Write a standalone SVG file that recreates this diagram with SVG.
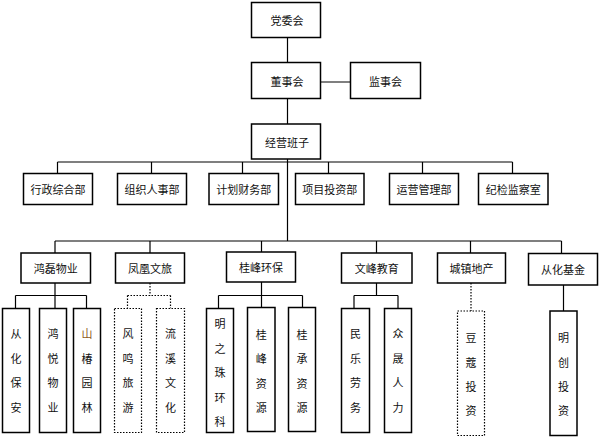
<svg xmlns="http://www.w3.org/2000/svg" width="600" height="444" viewBox="0 0 600 444">
<style>
.b{fill:#fff;stroke:#000;stroke-width:1.5}
.d{fill:#fff;stroke:#000;stroke-width:1.2;stroke-dasharray:1.5 1.5}
.l{fill:none;stroke:#000;stroke-width:1.2}
.ld{fill:none;stroke:#000;stroke-width:1.2;stroke-dasharray:1.5 1.5}
text{font-family:"Noto Sans CJK SC","Liberation Sans",sans-serif;font-size:11px;fill:#111;text-anchor:middle;dominant-baseline:central}
</style>
<rect width="600" height="444" fill="#fff"/>
<g id="connectors">
<path class="l" d="M287.5 37.5V62.5M287.5 98.5V124M287.5 159V241M320.5 82H350.5"/>
<path class="l" d="M57.5 162H512.5M57.5 162V173.5M151.5 162V173.5M242.5 162V173.5M328.5 162V173.5M422.5 162V173.5M512.5 162V173.5"/>
<path class="l" d="M55 241H561.5M55 241V253M150 241V253M261.5 241V252M376.5 241V253M470.5 241V253M561.5 241V253.5"/>
<path class="l" d="M55 283V308.5M15.5 295.5H86.5M15.5 295.5V308.5M86.5 295.5V308.5"/>
<path class="ld" d="M150 283V295.5M127.5 295.5H170.5M127.5 295.5V308.5M170.5 295.5V308.5"/>
<path class="l" d="M261.5 282V307.5M218.5 295.5H302.5M218.5 295.5V308.5M302.5 295.5V307.5"/>
<path class="l" d="M376.5 283V295.5M354 295.5H398M354 295.5V308.5M398 295.5V308.5"/>
<path class="ld" d="M471 283V311"/>
<path class="l" d="M563.5 285V311"/>
</g>
<g id="dangwei"><rect class="b" x="251.5" y="2.5" width="69" height="35"/><text x="287" y="20">党委会</text></g>
<g id="dongshi"><rect class="b" x="251.5" y="62.5" width="69" height="36"/><text x="287" y="81">董事会</text></g>
<g id="jianshi"><rect class="b" x="350.5" y="62.5" width="70" height="36"/><text x="385.5" y="81">监事会</text></g>
<g id="jingying"><rect class="b" x="251.5" y="124" width="69" height="35"/><text x="287" y="141.5">经营班子</text></g>
<g id="xingzheng"><rect class="b" x="23.5" y="173.5" width="69" height="31"/><text x="58" y="189">行政综合部</text></g>
<g id="zuzhi"><rect class="b" x="117.5" y="173.5" width="69" height="31"/><text x="152" y="189">组织人事部</text></g>
<g id="jihua"><rect class="b" x="209" y="173.5" width="69.5" height="31"/><text x="243.7" y="189">计划财务部</text></g>
<g id="xiangmu"><rect class="b" x="295.5" y="173.5" width="68.5" height="31"/><text x="329.7" y="189">项目投资部</text></g>
<g id="yunying"><rect class="b" x="389.5" y="173.5" width="69" height="31"/><text x="424" y="189">运营管理部</text></g>
<g id="jijian"><rect class="b" x="478.5" y="173.5" width="69.5" height="31"/><text x="513.2" y="189">纪检监察室</text></g>
<g id="honglei"><rect class="b" x="21" y="253" width="69.5" height="30"/><text x="55.7" y="268">鸿磊物业</text></g>
<g id="fenghuang"><rect class="b" x="115.5" y="253" width="69" height="30"/><text x="150" y="268">凤凰文旅</text></g>
<g id="guifeng"><rect class="b" x="226.5" y="252" width="69" height="30"/><text x="261" y="267">桂峰环保</text></g>
<g id="wenfeng"><rect class="b" x="341.5" y="253" width="70.5" height="30"/><text x="376.7" y="268">文峰教育</text></g>
<g id="chengzhen"><rect class="b" x="437.5" y="253" width="68" height="30"/><text x="471.5" y="268">城镇地产</text></g>
<g id="conghuajijin"><rect class="b" x="528.5" y="253.5" width="69" height="31.5"/><text x="563" y="269">从化基金</text></g>
<g id="conghuabaoan"><rect class="b" x="2.5" y="308.5" width="27" height="124"/><text x="16" y="333">从</text><text x="16" y="358">化</text><text x="16" y="382">保</text><text x="16" y="407">安</text></g>
<g id="hongyue"><rect class="b" x="39.5" y="308.5" width="27" height="124"/><text x="53" y="333">鸿</text><text x="53" y="358">悦</text><text x="53" y="382">物</text><text x="53" y="407">业</text></g>
<g id="shanchun"><rect class="b" x="73.5" y="308.5" width="27" height="124"/><text x="87" y="333" style="fill:#8B5A1A">山</text><text x="87" y="358">椿</text><text x="87" y="382">园</text><text x="87" y="407">林</text></g>
<g id="fengming"><rect class="d" x="114.5" y="308.5" width="27" height="124"/><text x="128" y="333">风</text><text x="128" y="358">鸣</text><text x="128" y="382">旅</text><text x="128" y="407">游</text></g>
<g id="liuxi"><rect class="d" x="156.5" y="308.5" width="28" height="124"/><text x="170.5" y="333">流</text><text x="170.5" y="358">溪</text><text x="170.5" y="382">文</text><text x="170.5" y="407">化</text></g>
<g id="mingzhizhu"><rect class="b" x="206.5" y="308.5" width="27" height="124"/><text x="220" y="323">明</text><text x="220" y="348">之</text><text x="220" y="372">珠</text><text x="220" y="397">环</text><text x="220" y="421">科</text></g>
<g id="guifengziyuan"><rect class="b" x="247.5" y="307.5" width="27.5" height="124"/><text x="261.2" y="334">桂</text><text x="261.2" y="358">峰</text><text x="261.2" y="383">资</text><text x="261.2" y="407">源</text></g>
<g id="guicheng"><rect class="b" x="288.5" y="307.5" width="27" height="124"/><text x="302" y="334">桂</text><text x="302" y="358">承</text><text x="302" y="383">资</text><text x="302" y="407">源</text></g>
<g id="minle"><rect class="b" x="341.5" y="308.5" width="28" height="124"/><text x="355.5" y="333">民</text><text x="355.5" y="358">乐</text><text x="355.5" y="382">劳</text><text x="355.5" y="407">务</text></g>
<g id="zhongsheng"><rect class="b" x="384.5" y="308.5" width="27" height="124"/><text x="398" y="333">众</text><text x="398" y="358">晟</text><text x="398" y="382">人</text><text x="398" y="407">力</text></g>
<g id="doukou"><rect class="d" x="457.5" y="311" width="27" height="124.5"/><text x="471" y="337">豆</text><text x="471" y="361.5">蔻</text><text x="471" y="386">投</text><text x="471" y="410">资</text></g>
<g id="mingchuang"><rect class="b" x="550" y="311" width="27" height="124.5"/><text x="563.5" y="337">明</text><text x="563.5" y="361.5">创</text><text x="563.5" y="386">投</text><text x="563.5" y="410">资</text></g>
</svg>
